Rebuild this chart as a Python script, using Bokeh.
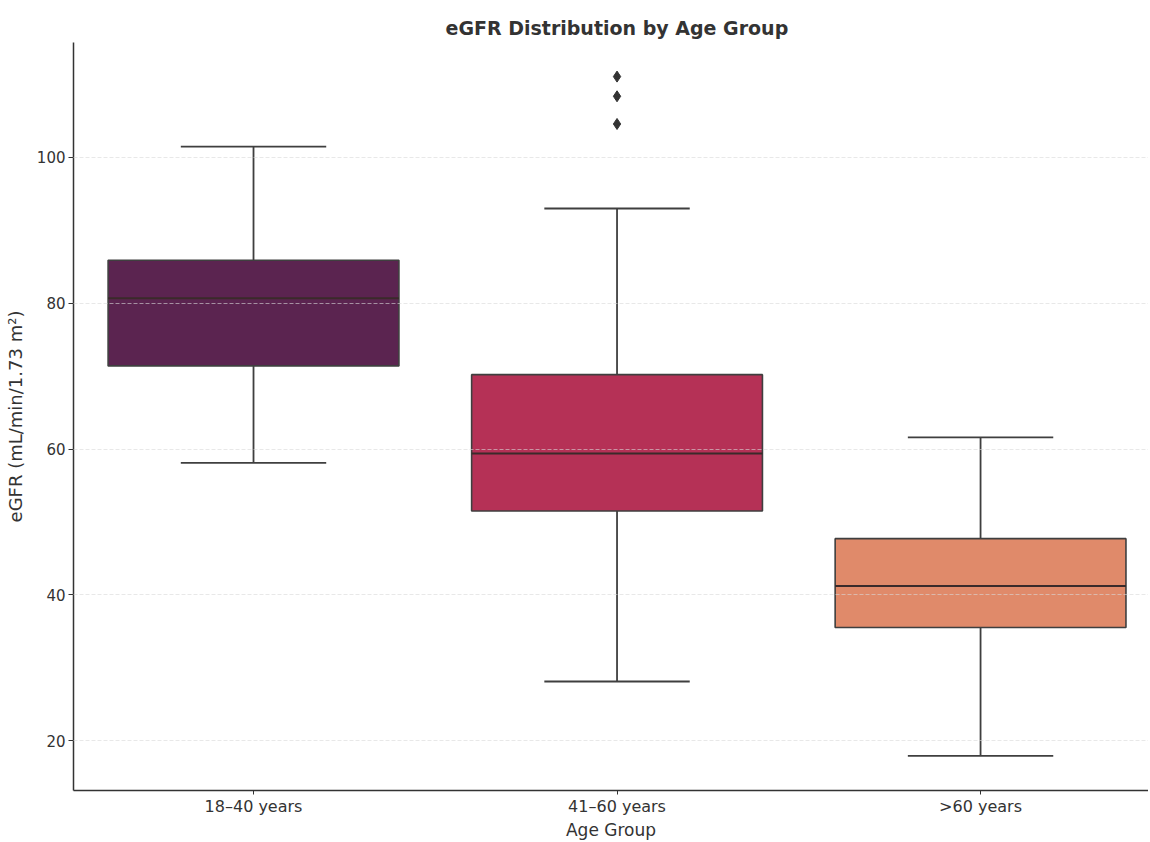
from bokeh.plotting import figure
from bokeh.models import Range1d, FixedTicker
from bokeh.embed import file_html
from bokeh.resources import INLINE

# ---- data ----
groups = ["18–40 years", "41–60 years", ">60 years"]
q1 = [71.4, 51.5, 35.5]
medians = [80.7, 59.4, 41.2]
q3 = [85.9, 70.2, 47.7]
whisker_low = [58.1, 28.1, 17.9]
whisker_high = [101.5, 93.0, 61.6]
outlier_group = [1, 1, 1]
outlier_values = [104.6, 108.4, 111.1]
box_colors = ["#5b2450", "#b53156", "#e08a6a"]
y_ticks = [20, 40, 60, 80, 100]

xs = list(range(len(groups)))
box_w = 0.8
cap_w = 0.4
edge = "#3f3f3f"
font = "DejaVu Sans"

p = figure(width=1148, height=842,
           x_range=Range1d(-0.4952, 2.462), y_range=Range1d(13.14, 115.78),
           output_backend="svg", toolbar_location=None,
           min_border_left=73, min_border_right=0,
           min_border_top=42, min_border_bottom=52,
           background_fill_color="white", border_fill_color="white")
p.outline_line_color = None

# title
p.title.text = "eGFR Distribution by Age Group"
p.title.align = "left"
p.title.offset = 372
p.title.text_font = font
p.title.text_font_size = "19px"
p.title.text_font_style = "bold"
p.title.text_color = "#333333"
p.title.standoff = 8

# whiskers
p.segment(x0=xs, y0=q3, x1=xs, y1=whisker_high, line_color=edge, line_width=1.8)
p.segment(x0=xs, y0=q1, x1=xs, y1=whisker_low, line_color=edge, line_width=1.8)
p.segment(x0=[x - cap_w / 2 for x in xs], y0=whisker_high,
          x1=[x + cap_w / 2 for x in xs], y1=whisker_high, line_color=edge, line_width=1.8)
p.segment(x0=[x - cap_w / 2 for x in xs], y0=whisker_low,
          x1=[x + cap_w / 2 for x in xs], y1=whisker_low, line_color=edge, line_width=1.8)

# boxes
p.vbar(x=xs, width=box_w, bottom=q1, top=q3, fill_color=box_colors,
       line_color=edge, line_width=1.6)
# medians
p.segment(x0=[x - box_w / 2 for x in xs], y0=medians,
          x1=[x + box_w / 2 for x in xs], y1=medians, line_color="#3a2a2a", line_width=2)

# outliers
p.scatter(x=outlier_group, y=outlier_values, marker="diamond", size=11,
          fill_color="#333333", line_color="#333333")

# axes
p.xaxis.ticker = FixedTicker(ticks=xs)
p.xaxis.major_label_overrides = {i: g for i, g in enumerate(groups)}
p.yaxis.ticker = FixedTicker(ticks=y_ticks)
p.xaxis.minor_tick_line_color = None
p.yaxis.minor_tick_line_color = None
for ax in (p.xaxis, p.yaxis):
    ax.axis_line_color = "#333333"
    ax.axis_line_width = 1.5
    ax.major_tick_line_color = "#333333"
    ax.major_tick_in = 0
    ax.major_label_text_font = font
    ax.major_label_text_color = "#333333"
    ax.axis_label_text_font = font
    ax.axis_label_text_font_style = "normal"
    ax.axis_label_text_color = "#333333"
p.xaxis.major_tick_out = 4
p.yaxis.major_tick_out = 5
p.xaxis.major_label_text_font_size = "16px"
p.yaxis.major_label_text_font_size = "15px"
p.xaxis.axis_label = "Age Group"
p.xaxis.axis_label_text_font_size = "17px"
p.xaxis.major_label_standoff = 2
p.xaxis.axis_label_standoff = 1
p.yaxis.axis_label = "eGFR (mL/min/1.73 m²)"
p.yaxis.axis_label_text_font_size = "18px"
p.yaxis.major_label_standoff = 3
p.yaxis.axis_label_standoff = 8

# grid
p.xgrid.grid_line_color = None
p.ygrid.grid_line_color = "#d8d8d8"
p.ygrid.grid_line_alpha = 0.6
p.ygrid.grid_line_dash = "4 2"
p.ygrid.level = "overlay"

open("out.html", "w").write(file_html(p, INLINE))
